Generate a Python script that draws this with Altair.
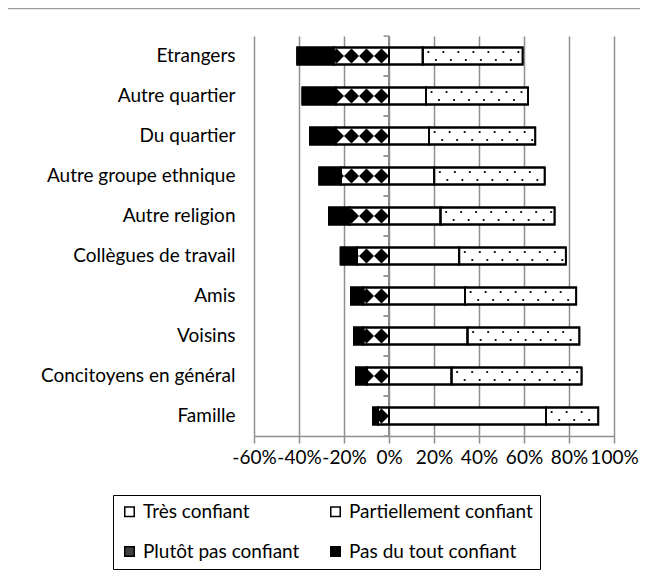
import math
import altair as alt
import pandas as pd

categories = ["Etrangers", "Autre quartier", "Du quartier", "Autre groupe ethnique",
              "Autre religion", "Collègues de travail", "Amis", "Voisins",
              "Concitoyens en général", "Famille"]
tres = [15.0, 16.4, 17.8, 20.1, 22.9, 31.2, 33.8, 34.9, 27.8, 69.8]
partiel = [44.4, 45.4, 47.2, 49.1, 50.7, 47.4, 49.4, 49.7, 57.8, 23.2]
plutot_pas = [24.6, 23.6, 23.6, 21.3, 17.6, 14.2, 11.4, 11.4, 9.9, 4.9]
pas_du_tout = [16.2, 14.9, 11.5, 9.7, 9.1, 7.3, 5.5, 4.2, 4.8, 2.2]
series = ["Très confiant", "Partiellement confiant", "Plutôt pas confiant", "Pas du tout confiant"]
# legend fills column-first, so order entries to read row-wise like the original
legend_order = [series[0], series[2], series[1], series[3]]
legend_colors = ["white", "#404040", "white", "black"]
tick_values = [-60, -40, -20, 0, 20, 40, 60, 80, 100]

FONT = "Lato"
GRID = "#8f8f8f"

rows = []
for c, t, p, pp, pn in zip(categories, tres, partiel, plutot_pas, pas_du_tout):
    rows.append(dict(cat=c, seg=series[3], x0=-(pp + pn), x1=-pp, col="black"))
    rows.append(dict(cat=c, seg=series[2], x0=-pp, x1=0.0, col="white"))
    rows.append(dict(cat=c, seg=series[0], x0=0.0, x1=t, col="white"))
    rows.append(dict(cat=c, seg=series[1], x0=t, x1=t + p, col="white"))
segs = pd.DataFrame(rows)

step = 20 / 3
dia = []
for c, pp in zip(categories, plutot_pas):
    for k in range(math.ceil(pp / step)):
        dia.append(dict(cat=c, x=-(k + 0.5) * step))
dia = pd.DataFrame(dia)

dots = []
for c, t, p in zip(categories, tres, partiel):
    x = t + 2.5
    while x < t + p - 1:
        dots.append(dict(cat=c, x=x, r="top"))
        x += step
    x = t + 2.5 + step / 2
    while x < t + p - 1:
        dots.append(dict(cat=c, x=x, r="bot"))
        x += step
dots = pd.DataFrame(dots)

xscale = alt.Scale(domain=[-60, 100], nice=False, zero=False)
yscale = alt.Scale(domain=categories, paddingInner=0, paddingOuter=0)

xaxis = alt.Axis(values=tick_values, labelExpr="datum.value + '%'", title=None,
                 grid=True, gridColor=GRID, gridWidth=1.5,
                 domainColor=GRID, domainWidth=1.5, tickColor=GRID, tickWidth=1.5,
                 tickSize=7, labelPadding=5, labelFont=FONT, labelFontSize=19,
                 labelColor="black", labelOverlap=False, labelFlush=False)
yaxis = alt.Axis(title=None, domain=False, ticks=False, grid=False, labelPadding=19,
                 labelFont=FONT, labelFontSize=19, labelColor="black", labelLimit=400)

base = alt.Chart(segs)
bars = base.mark_bar(size=17, stroke="black", strokeWidth=1.8).encode(
    x=alt.X("x0:Q", scale=xscale, axis=xaxis),
    x2="x1:Q",
    y=alt.Y("cat:N", scale=yscale, axis=yaxis, sort=categories),
    fill=alt.Fill("col:N", scale=None),
)
outline = base.mark_bar(size=17, stroke="black", strokeWidth=1.8, fillOpacity=0).encode(
    x="x0:Q", x2="x1:Q", y=alt.Y("cat:N", sort=categories),
)

diamonds = alt.Chart(dia).mark_point(shape="diamond", filled=True, size=225,
                                      color="black", opacity=1, strokeWidth=0).encode(
    x="x:Q", y=alt.Y("cat:N", sort=categories))

dots_top = alt.Chart(dots).transform_filter("datum.r == 'top'").mark_point(
    shape="circle", filled=True, size=5, color="black", opacity=1, yOffset=-4).encode(
    x="x:Q", y=alt.Y("cat:N", sort=categories))
dots_bot = alt.Chart(dots).transform_filter("datum.r == 'bot'").mark_point(
    shape="circle", filled=True, size=5, color="black", opacity=1, yOffset=4).encode(
    x="x:Q", y=alt.Y("cat:N", sort=categories))

edges = alt.Chart(pd.DataFrame({"cat": categories}))
zt1 = edges.mark_rule(color=GRID, strokeWidth=1.5).encode(
    y=alt.Y("cat:N", sort=categories, bandPosition=0),
    x=alt.datum(-2.4), x2=alt.datum(0))
zt2 = edges.mark_rule(color=GRID, strokeWidth=1.5).encode(
    y=alt.Y("cat:N", sort=categories, bandPosition=1),
    x=alt.datum(-2.4), x2=alt.datum(0))
zero = edges.mark_rule(color=GRID, strokeWidth=2).encode(x=alt.datum(0))

# chart-area frame line along the top
frame = alt.Chart(pd.DataFrame({"a": [0]})).mark_rule(color="#9a9a9a", strokeWidth=1.5).encode(
    x=alt.value(-246), x2=alt.value(387), y=alt.value(-27.5))

legend_layer = alt.Chart(pd.DataFrame({"seg": legend_order})).mark_square(opacity=0).encode(
    x=alt.datum(0),
    y=alt.value(0),
    fill=alt.Fill("seg:N", scale=alt.Scale(domain=legend_order, range=legend_colors),
                  legend=alt.Legend(
                      title=None, orient="none", legendX=-141, legendY=459,
                      columns=2, columnPadding=26, rowPadding=20, padding=7,
                      symbolType="square", symbolSize=90, symbolStrokeColor="black",
                      symbolStrokeWidth=1.5, symbolOpacity=1, labelOffset=4,
                      labelFont=FONT, labelFontSize=19, labelColor="black",
                      labelLimit=400, strokeColor="black", fillColor="white")),
)

chart = alt.layer(bars, zero, zt1, zt2, diamonds, dots_top, dots_bot, outline,
                  frame, legend_layer).properties(
    width=360, height=400,
    autosize=alt.AutoSizeParams(type="none"),
    padding={"left": 246, "top": 28, "right": 26, "bottom": 139},
    background="white",
).configure_view(strokeWidth=0)

chart.save("out.html", embed_options={"renderer": "svg", "actions": False})
